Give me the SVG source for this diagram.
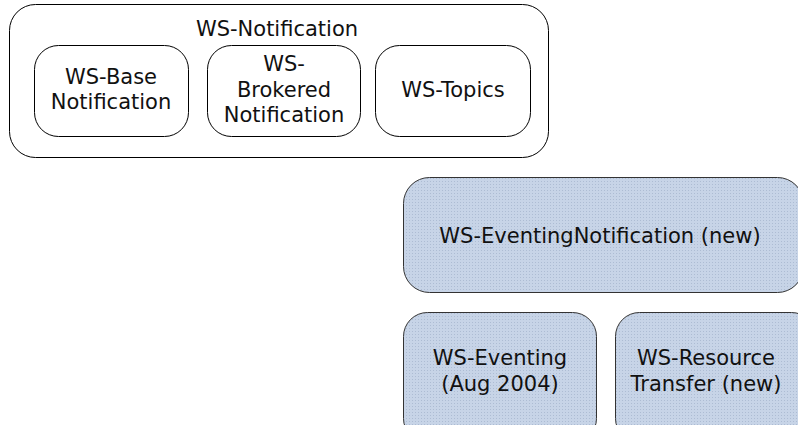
<svg xmlns="http://www.w3.org/2000/svg" width="798" height="425" viewBox="0 0 798 425">
<defs>
<pattern id="dots" width="3" height="3" patternUnits="userSpaceOnUse">
<rect width="3" height="3" fill="#c7d4e7"/>
<rect x="1" y="1" width="1" height="1" fill="#adbcd3"/>
</pattern>
</defs>
<style>
.w{fill:#fff;stroke:#000;stroke-width:1}
.b{fill:url(#dots);stroke:#333;stroke-width:1}
text{font-family:"DejaVu Sans",Verdana,sans-serif;font-size:21px;fill:#111;text-anchor:middle}
</style>
<rect width="798" height="425" fill="#fff"/>
<g id="ws-notification">
<rect class="w" x="9.5" y="4.5" width="539" height="153" rx="26"/>
<text x="277" y="36">WS-Notification</text>
</g>
<g id="ws-base">
<rect class="w" x="34.5" y="45.5" width="154" height="91" rx="24"/>
<text x="111" y="84">WS-Base</text>
<text x="111" y="109">Notification</text>
</g>
<g id="ws-brokered">
<rect class="w" x="207.5" y="45.5" width="153" height="91" rx="24"/>
<text x="284" y="71">WS-</text>
<text x="284" y="97">Brokered</text>
<text x="284" y="122">Notification</text>
</g>
<g id="ws-topics">
<rect class="w" x="375.5" y="45.5" width="155" height="91" rx="24"/>
<text x="453" y="97">WS-Topics</text>
</g>
<g id="ws-eventing-notification">
<rect class="b" x="403.5" y="177.5" width="400" height="115" rx="26"/>
<text x="600" y="243">WS-EventingNotification (new)</text>
</g>
<g id="ws-eventing">
<rect class="b" x="403.5" y="312.5" width="193" height="130" rx="24"/>
<text x="500" y="365">WS-Eventing</text>
<text x="500" y="391">(Aug 2004)</text>
</g>
<g id="ws-resource-transfer">
<rect class="b" x="615.5" y="312.5" width="200" height="130" rx="24"/>
<text x="706" y="365">WS-Resource</text>
<text x="706" y="391">Transfer (new)</text>
</g>
<g id="connectors"></g>
</svg>
